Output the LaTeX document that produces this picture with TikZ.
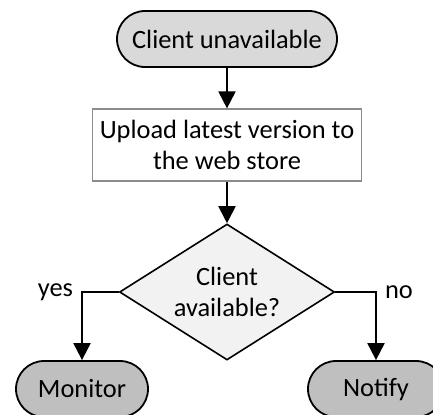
\documentclass[tikz,border=0pt]{standalone}
\usepackage{fontspec}
\setmainfont{Carlito}
\usetikzlibrary{shapes.geometric,arrows.meta}

\begin{document}
\begin{tikzpicture}[x=0.5pt,y=-0.5pt,
    >={Triangle[width=8.5pt,length=8.5pt]}, line width=1pt,
    font=\fontsize{13.2}{15.5}\selectfont,
    terminal/.style={rectangle, rounded corners=14pt, draw=black, line width=0.9pt,
      minimum height=28pt, inner sep=0pt},
    process/.style={rectangle, draw=gray!90, line width=0.6pt, fill=white,
      minimum width=134.5pt, minimum height=36pt, align=center},
    decision/.style={diamond, aspect=1.58, draw=black, line width=0.8pt, fill=gray!10,
      minimum width=107.5pt, minimum height=68pt, inner sep=0pt, align=center}]

    % page frame, the two lower ends run off its edge
    \useasboundingbox (0,0) rectangle (433,414);
    \clip (0,0) rectangle (433,414);

    \node (Start) [terminal, fill=gray!30, minimum width=110pt] at (227,39) {Client unavailable};
    \node (Upload) [process, node distance=53pt, below of=Start] {Upload latest version to\\the web store};
    \node (Check) [decision, node distance=73.5pt, below of=Upload] {Client\\available?};

    \node (Monitor) [terminal, fill=gray!50, minimum width=66pt,
      node distance=48.5pt, below of=Check, xshift=-72.5pt] {Monitor};
    \node (Notify) [terminal, fill=gray!50, minimum width=68pt,
      node distance=48.5pt, below of=Check, xshift=74.5pt] {Notify};

    \draw[->] (Start) -- (Upload);
    \draw[->] (Upload) -- (Check);
    \draw[->] (Check.west) -| node[pos=0.5, left, inner sep=4pt] (yes) {yes} (Monitor);
    \draw[->] (Check.east) -| node[pos=0.5, right, inner sep=4pt] (no) {no} (Notify);

\end{tikzpicture}
\end{document}
